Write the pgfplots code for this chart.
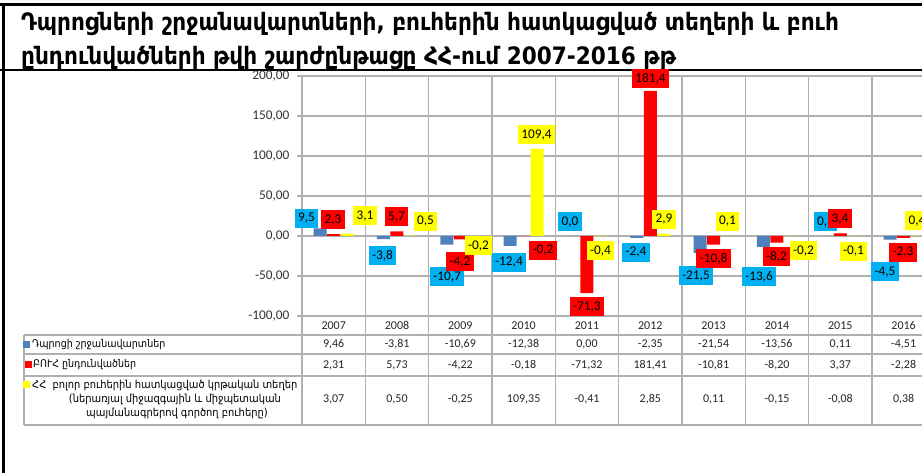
\documentclass[border=0pt]{standalone}
\usepackage{pgfplots}
\usepackage{pgfplotstable}
\pgfplotsset{compat=1.18}
\usepackage{fontspec}
\setmainfont{Carlito}
\newfontfamily\arm{DejaVu Sans Condensed}
\newfontfamily\armb{DejaVu Sans Condensed Bold}
\definecolor{barblue}{HTML}{4F81BD}
\definecolor{lblblue}{HTML}{00B0F0}
\definecolor{barred}{HTML}{FF0000}
\definecolor{baryellow}{HTML}{FFFF00}
\definecolor{gridgray}{HTML}{B0B0B0}

\pgfplotstableread{
x year B R Y
0 2007 9.46 2.31 3.07
1 2008 -3.81 5.73 0.50
2 2009 -10.69 -4.22 -0.25
3 2010 -12.38 -0.18 109.35
4 2011 0.00 -71.32 -0.41
5 2012 -2.35 181.41 2.85
6 2013 -21.54 -10.81 0.11
7 2014 -13.56 -8.20 -0.15
8 2015 0.11 3.37 -0.08
9 2016 -4.51 -2.28 0.38
}\data

\pgfplotstableread{
x y lab
-0.429 21.9 9,5
0.771 -24.4 -3,8
1.790 -51.25 -10,7
2.768 -33.1 -12,4
3.732 17.5 0,0
4.774 -20.6 -2,4
5.721 -50 -21,5
6.716 -50.6 -13,6
7.766 17.5 0,1
8.705 -45 -4,5
}\labB

\pgfplotstableread{
x y lab
-0.011 20 2,3
0.992 23.75 5,7
1.995 -32.5 -4,2
3.305 -18.1 -0,2
3.999 -88.75 -71,3
5.003 196.9 181,4
5.998 -28.75 -10,8
6.992 -26.25 -8,2
7.995 21.25 3,4
8.990 -20.6 -2,3
}\labR

\pgfplotstableread{
x y lab
0.495 25 3,1
1.450 18.1 0,5
2.287 -12.5 -0,2
3.203 126.25 109,4
4.213 -18.75 -0,4
5.216 20.6 2,9
6.218 18.1 0,1
7.419 -18.75 -0,2
8.208 -19.4 -0,1
9.211 18.75 0,4
}\labY

\pgfplotsset{
  lbl/.style={draw=none, mark=none, nodes near coords, point meta=explicit symbolic,
    every node near coord/.append style={anchor=center, fill=#1, inner xsep=3.5pt, inner ysep=0pt,
      minimum height=19pt, font=\fontsize{13.3}{16}\selectfont, text=black}},
  tblrow/.style={draw=none, mark=none, point meta=explicit,
    nodes near coords={\pgfmathprintnumber[fixed, fixed zerofill, precision=2, use comma, assume math mode=true]{\pgfplotspointmeta}},
    every node near coord/.append style={anchor=center, font=\fontsize{12}{14}\selectfont, text=black!85}},
}

\begin{document}
\begin{tikzpicture}[x=1pt,y=1pt]
\useasboundingbox (0,0) rectangle (922,473);
\clip (0,0) rectangle (922,473);
\fill[white] (0,0) rectangle (922,473);
% black frame lines
\fill[black] (0,467) rectangle (922,470);
\fill[black] (2,0) rectangle (5,470);
\fill[black] (0,402) rectangle (922,404);
% gray category separators and table lines
\foreach \k in {0,...,10} {
  \draw[gridgray, line width=1.2pt] ({302+63.333*\k},397) -- ({302+63.333*\k},48);
}
\foreach \yy in {138,119,48} {
  \draw[gridgray, line width=1.2pt] (24,\yy) -- (922,\yy);
}
\draw[gridgray, line width=2pt] (24,97) -- (922,97);
\draw[gridgray, line width=1.2pt] (24,138) -- (24,48);
% title
\node[anchor=base west, inner sep=0pt, font=\armb\fontsize{24}{28}\selectfont] at (21,442) {Դպրոցների շրջանավարտների, բուհերին հատկացված տեղերի և բուհ};
\node[anchor=base west, inner sep=0pt, font=\armb\fontsize{24}{28}\selectfont] at (21,408) {ընդունվածների թվի շարժընթացը ՀՀ-ում 2007-2016 թթ};
% legend cells
\fill[barblue] (23,125) rectangle (30,132);
\node[anchor=west, inner sep=0pt, font=\arm\fontsize{10.6}{13}\selectfont] at (32,128.5) {Դպրոցի շրջանավարտներ};
\fill[barred] (25,104.5) rectangle (32,111.5);
\node[anchor=west, inner sep=0pt, font=\arm\fontsize{10.6}{13}\selectfont] at (33,108) {ԲՈՒՀ ընդունվածներ};
\fill[baryellow] (23,84.5) rectangle (30,91.5);
\node[anchor=west, inner sep=0pt, font=\arm\fontsize{11}{13}\selectfont] at (32,88) {ՀՀ\ \ բոլոր բուհերին հատկացված կրթական տեղեր};
\node[anchor=center, inner sep=0pt, font=\arm\fontsize{11}{13}\selectfont] at (175,74) {(ներառյալ միջազգային և միջպետական};
\node[anchor=center, inner sep=0pt, font=\arm\fontsize{11}{13}\selectfont] at (177,60) {պայմանագրերով գործող բուհերը)};

\begin{axis}[
  at={(302pt,157pt)}, anchor=south west,
  scale only axis, width=620pt, height=240pt,
  xmin=-0.5, xmax=9.29, ymin=-100, ymax=200,
  clip=false,
  axis line style={draw=none},
  ytick={-100,-50,...,200},
  ymajorgrids, grid style={gridgray, line width=1.2pt},
  tick align=outside, major tick length=5pt,
  ytick pos=left,
  ytick style={gridgray, line width=1.2pt},
  xtick={0,...,9},
  xticklabels={2007,2008,2009,2010,2011,2012,2013,2014,2015,2016},
  xtick style={draw=none},
  yticklabel style={font=\fontsize{13.3}{16}\selectfont, text=black!80, xshift=-4pt, /pgf/number format/.cd, fixed, fixed zerofill, precision=2, use comma, assume math mode=true},
  xticklabel style={font=\fontsize{12}{14}\selectfont, text=black!85, anchor=center, yshift=-4.5pt},
]
\addplot[ybar, bar width=13pt, bar shift=-13.5pt, fill=barblue, draw=none] table[x=x, y=B] {\data};
\addplot[ybar, bar width=13pt, bar shift=0pt, fill=barred, draw=none] table[x=x, y=R] {\data};
\addplot[ybar, bar width=13pt, bar shift=13.5pt, fill=baryellow, draw=none] table[x=x, y=Y] {\data};
\addplot[lbl=lblblue] table[x=x, y=y, meta=lab] {\labB};
\addplot[lbl=barred] table[x=x, y=y, meta=lab] {\labR};
\addplot[lbl=baryellow] table[x=x, y=y, meta=lab] {\labY};
\addplot[tblrow] table[x=x, y expr=-135.6, meta=B] {\data};
\addplot[tblrow] table[x=x, y expr=-161.25, meta=R] {\data};
\addplot[tblrow] table[x=x, y expr=-204.4, meta=Y] {\data};
\end{axis}
\end{tikzpicture}
\end{document}
